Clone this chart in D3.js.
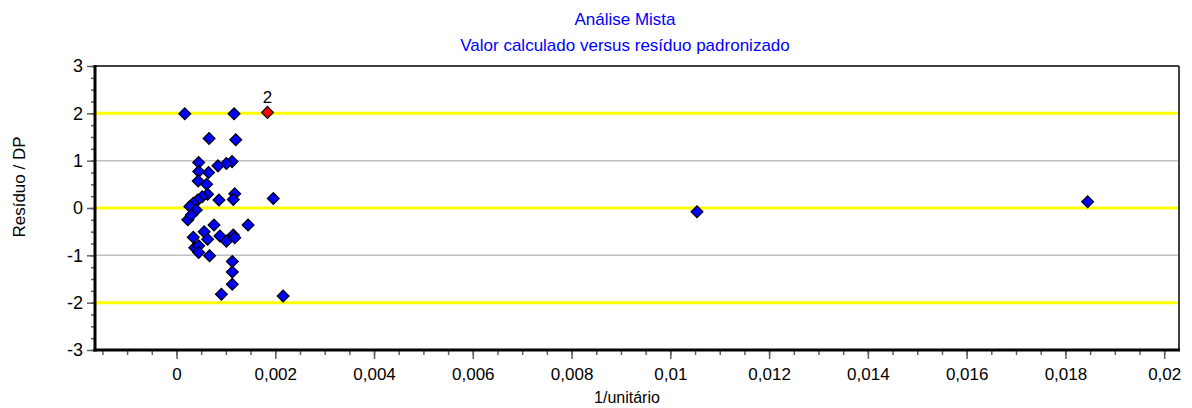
<!DOCTYPE html>
<html lang="en">
<head>
<meta charset="utf-8">
<script src="https://d3js.org/d3.v7.min.js"></script>
<style>
  body { margin: 0; background: #fff; }
  text { font-family: "Liberation Sans", Arial, sans-serif; }
</style>
</head>
<body>
<script>
// chart data
var titleLines = ["Análise Mista", "Valor calculado versus resíduo padronizado"];
var xLabel = "1/unitário";
var yLabel = "Resíduo / DP";

var xVals = [0.000168, 0.001166, 0.001842, 0.00066, 0.0012, 0.00045, 0.001125, 0.00101, 0.00084,
  0.00065, 0.00045, 0.00044, 0.00061, 0.00063, 0.00052, 0.00043, 0.00034, 0.00027, 0.0004,
  0.00086, 0.00118, 0.00115, 0.00196, 0.00023, 0.00076, 0.00145, 0.00056, 0.00034, 0.00063,
  0.00088, 0.00101, 0.00115, 0.00118, 0.00037, 0.00045, 0.00045, 0.00067, 0.00113, 0.00113,
  0.00113, 0.00091, 0.00216, 0.0003, 0.01054, 0.01845];
var yVals = [1.99, 1.99, 2.02, 1.47, 1.44, 0.96, 0.98, 0.94, 0.89,
  0.75, 0.77, 0.57, 0.50, 0.29, 0.24, 0.17, 0.10, 0.03, -0.04,
  0.17, 0.30, 0.18, 0.20, -0.25, -0.36, -0.36, -0.50, -0.62, -0.66,
  -0.59, -0.70, -0.57, -0.63, -0.84, -0.80, -0.94, -1.01, -1.13, -1.35,
  -1.61, -1.82, -1.86, -0.15, -0.08, 0.13];
var highlight = 2;          // index of the flagged point
var highlightLabel = "2";

var yellowLines = [-2, 0, 2];
var grayLines = [-1, 1];
var xTicks = [0, 0.002, 0.004, 0.006, 0.008, 0.01, 0.012, 0.014, 0.016, 0.018, 0.02];
var yTicks = [-3, -2, -1, 0, 1, 2, 3];

var width = 1192, height = 408;
var pLeft = 95, pRight = 1179, pTop = 66, pBottom = 350;

var svg = d3.select("body").append("svg")
  .attr("width", width)
  .attr("height", height);

var x = d3.scaleLinear().domain([-0.00165, 0.0203]).range([pLeft, pRight]);
var y = d3.scaleLinear().domain([-3, 3]).range([pBottom, pTop]);

var fmtX = function(v) { return String(+v.toFixed(4)).replace(".", ","); };
var fmtY = function(v) { return String(v); };

// titles
svg.selectAll(".title")
  .data(titleLines)
  .enter().append("text")
  .attr("x", 625)
  .attr("y", function(d, i) { return 25 + i * 26; })
  .attr("text-anchor", "middle")
  .style("font-size", "17px")
  .style("fill", "#0000ff")
  .text(function(d) { return d; });

// gray grid lines
svg.selectAll(".grid")
  .data(grayLines)
  .enter().append("line")
  .attr("x1", pLeft).attr("x2", pRight)
  .attr("y1", function(d) { return y(d); })
  .attr("y2", function(d) { return y(d); })
  .style("stroke", "#c0c0c0")
  .style("stroke-width", 1.5);

// yellow reference lines
svg.selectAll(".ref")
  .data(yellowLines)
  .enter().append("line")
  .attr("x1", pLeft).attr("x2", pRight)
  .attr("y1", function(d) { return y(d); })
  .attr("y2", function(d) { return y(d); })
  .style("stroke", "#ffff00")
  .style("stroke-width", 3);

// frame: top and right thin, left and bottom heavy
svg.append("line").attr("x1", pLeft).attr("x2", pRight).attr("y1", pTop).attr("y2", pTop)
  .style("stroke", "#404040").style("stroke-width", 2);
svg.append("line").attr("x1", pRight).attr("x2", pRight).attr("y1", pTop).attr("y2", pBottom)
  .style("stroke", "#404040").style("stroke-width", 2);

// x axis
var xMinor = d3.range(-0.0015, 0.02025, 0.0005);
var xAxisMinor = d3.axisBottom(x).tickValues(xMinor).tickSize(5).tickFormat("");
var xAxis = d3.axisBottom(x).tickValues(xTicks).tickSize(9).tickPadding(9).tickFormat(fmtX);

var gxm = svg.append("g").attr("transform", "translate(0," + pBottom + ")").call(xAxisMinor);
var gx = svg.append("g").attr("transform", "translate(0," + pBottom + ")").call(xAxis);
[gxm, gx].forEach(function(g) {
  g.select(".domain").remove();
  g.selectAll(".tick line").style("stroke", "#606060").style("stroke-width", 1.5);
});
gx.selectAll(".tick text")
  .style("font-size", "17px")
  .style("fill", "#000")
  .style("font-family", "'Liberation Sans', Arial, sans-serif");

// y axis
var yMinor = d3.range(-3, 3.01, 0.25);
var yAxisMinor = d3.axisLeft(y).tickValues(yMinor).tickSize(4).tickFormat("");
var yAxis = d3.axisLeft(y).tickValues(yTicks).tickSize(8).tickPadding(4).tickFormat(fmtY);

var gym = svg.append("g").attr("transform", "translate(" + pLeft + ",0)").call(yAxisMinor);
var gy = svg.append("g").attr("transform", "translate(" + pLeft + ",0)").call(yAxis);
[gym, gy].forEach(function(g) {
  g.select(".domain").remove();
  g.selectAll(".tick line").style("stroke", "#606060").style("stroke-width", 1.5);
});
gy.selectAll(".tick text")
  .style("font-size", "18px")
  .style("fill", "#000")
  .style("font-family", "'Liberation Sans', Arial, sans-serif");

svg.append("line").attr("x1", pLeft).attr("x2", pLeft).attr("y1", pTop - 1).attr("y2", pBottom + 1.5)
  .style("stroke", "#000").style("stroke-width", 3);
svg.append("line").attr("x1", pLeft - 1.5).attr("x2", pRight + 1).attr("y1", pBottom).attr("y2", pBottom)
  .style("stroke", "#000").style("stroke-width", 3);

// axis titles
svg.append("text")
  .attr("transform", "translate(25,187) rotate(-90)")
  .attr("text-anchor", "middle")
  .style("font-size", "17px")
  .text(yLabel);

svg.append("text")
  .attr("x", 627)
  .attr("y", 403)
  .attr("text-anchor", "middle")
  .style("font-size", "16px")
  .text(xLabel);

// points
var pts = xVals.map(function(v, i) { return { x: v, y: yVals[i], i: i }; });
var diamond = d3.symbol().type(d3.symbolSquare).size(70);

svg.selectAll(".pt")
  .data(pts)
  .enter().append("path")
  .attr("d", diamond)
  .attr("transform", function(d) { return "translate(" + x(d.x) + "," + y(d.y) + ") rotate(45)"; })
  .style("fill", function(d) { return d.i === highlight ? "#ff0000" : "#0000ff"; })
  .style("stroke", "#000")
  .style("stroke-width", 1.2);

svg.append("text")
  .attr("x", x(xVals[highlight]))
  .attr("y", y(yVals[highlight]) - 9)
  .attr("text-anchor", "middle")
  .style("font-size", "17px")
  .text(highlightLabel);
</script>
</body>
</html>
